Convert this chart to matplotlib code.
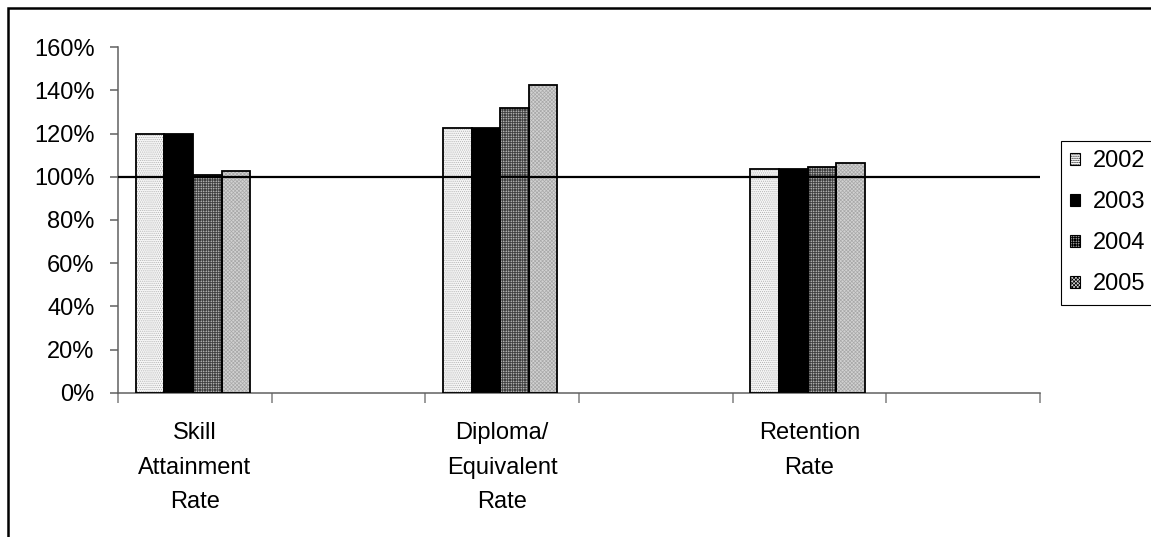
import numpy as np
import matplotlib
matplotlib.use("Agg")
from matplotlib import pyplot as plt
from matplotlib.patches import Rectangle
from matplotlib.ticker import FuncFormatter

plt.rcParams['font.family'] = ['Liberation Sans', 'DejaVu Sans']
plt.rcParams['hatch.linewidth'] = 0.5

# six slots on the category axis, every other one left blank
categories = ["Skill\nAttainment\nRate", "", "Diploma/\nEquivalent\nRate", "",
              "Retention\nRate", ""]
years = ["2002", "2003", "2004", "2005"]
rate_2002 = [1.200, None, 1.225, None, 1.035, None]
rate_2003 = [1.200, None, 1.227, None, 1.038, None]
rate_2004 = [1.008, None, 1.317, None, 1.047, None]
rate_2005 = [1.025, None, 1.425, None, 1.062, None]
yticks = [0.0, 0.2, 0.4, 0.6, 0.8, 1.0, 1.2, 1.4, 1.6]

series = [rate_2002, rate_2003, rate_2004, rate_2005]
# face, hatch, hatch colour
styles = [("#f6f6f6", "........", "#b0b0b0"),
          ("#000000", None, "#000000"),
          ("#e8e8e8", "++++++++++", "#404040"),
          ("#d2d2d2", "xxxxxxxxx", "#a8a8a8")]

fig = plt.figure(figsize=(11.51, 5.37), dpi=100)
ax = fig.add_axes([118/1151, 144.3/537, (1040-118)/1151, (489.7-144.3)/537])

fs = 17
w = 0.186
offsets = (np.arange(4) - 1.5) * w - 0.012
handles = []
for vals, (face, hatch, hcol), off, yr in zip(series, styles, offsets, years):
    idx = [i for i, v in enumerate(vals) if v is not None]
    h = [vals[i] for i in idx]
    x = np.array(idx) + off
    # fill + hatch first, then a plain black outline on top
    ax.bar(x, h, width=w, color=face, hatch=hatch, edgecolor=hcol, linewidth=0, zorder=2)
    ax.bar(x, h, width=w, fill=False, edgecolor="black", linewidth=1.3, zorder=3)
    handles.append(Rectangle((0, 0), 1, 1, facecolor=face, hatch=hatch, edgecolor=hcol,
                             linewidth=0))

ax.axhline(1.0, color="black", linewidth=1.6, zorder=4)

ax.set_xlim(-0.5, len(categories) - 0.5)
ax.set_ylim(0, 1.6)
ax.set_yticks(yticks)
ax.yaxis.set_major_formatter(FuncFormatter(lambda v, p: "%d%%" % round(v * 100)))

# major ticks sit between categories, labels go on the minor ticks
ax.set_xticks(np.arange(len(categories) + 1) - 0.5)
ax.set_xticklabels([])
ax.set_xticks(np.arange(len(categories)), minor=True)
ax.set_xticklabels(categories, minor=True, fontsize=fs, linespacing=1.75)
ax.tick_params(axis="x", which="minor", length=0, pad=21)
ax.tick_params(axis="x", which="major", length=7, width=1.1, color="#808080",
               direction="out")
ax.tick_params(axis="y", length=6, width=1.1, color="#606060", pad=11, labelsize=fs)

for s in ["top", "right"]:
    ax.spines[s].set_visible(False)
ax.spines["left"].set_color("#606060")
ax.spines["left"].set_linewidth(1.1)
ax.spines["bottom"].set_color("#606060")
ax.spines["bottom"].set_linewidth(1.1)

leg = fig.legend(handles, years, loc="upper left",
                 bbox_to_anchor=(1061/1151, 1 - 141/537), borderaxespad=0,
                 fontsize=fs, handlelength=0.42, handleheight=0.42,
                 handletextpad=0.55, labelspacing=0.8, borderpad=0.4,
                 fancybox=False, framealpha=1)
leg.get_frame().set_edgecolor("black")
leg.get_frame().set_linewidth(0.8)
for p in leg.get_patches():
    p.set_edgecolor("black")
    p.set_linewidth(0.8)

# outer frame around the chart area
fig.patches.append(Rectangle((8/1151, -0.1), 1.2, 1 - 8/537 + 0.1, transform=fig.transFigure,
                             fill=False, edgecolor="black", linewidth=1.8))

fig.savefig("out.png", dpi=100)
